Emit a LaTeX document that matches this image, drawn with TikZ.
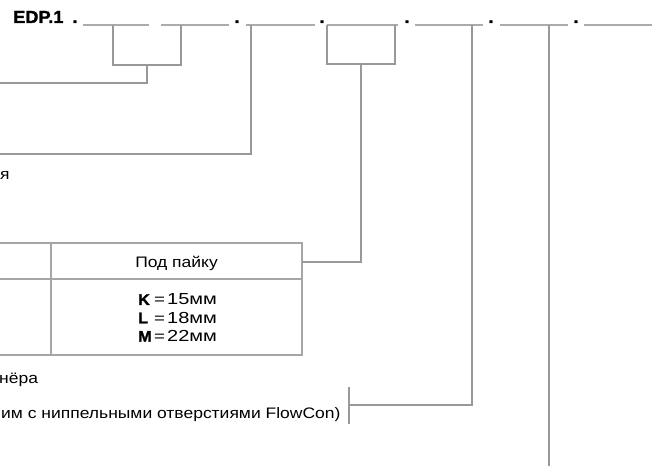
\documentclass[tikz,border=0pt]{standalone}
\usepackage{fontspec}
\setmainfont{Liberation Sans}
\newfontfamily\labelfont[FakeStretch=1.15]{Liberation Sans}
\newfontfamily\valfont[FakeStretch=1.25]{Liberation Sans}
\newfontfamily\codefamily[FakeStretch=1.04,FakeBold=1.5]{Liberation Sans Bold}
\begin{document}
\begin{tikzpicture}[
    x=1pt, y=-1pt,
    seg/.style={draw=black!33, line width=1.6pt},
    lead/.style={draw=black!40, line width=1.3pt},
    grid/.style={draw=black!35, line width=1.3pt},
    txt/.style={font=\labelfont\fontsize{15.2}{18}\selectfont, inner sep=0pt, anchor=base west},
    valtxt/.style={font=\valfont\fontsize{16}{18}\selectfont, inner sep=0pt, anchor=base west},
    lettertxt/.style={font=\codefamily\fontsize{15.5}{18}\selectfont, inner sep=0pt, anchor=base west},
    eqtxt/.style={font=\valfont\fontsize{15}{18}\selectfont, inner sep=0pt, anchor=base west},
    codefont/.style={font=\codefamily\fontsize{17.5}{20}\selectfont, inner sep=0pt, anchor=base},
]
\useasboundingbox (0,0) rectangle (662,470);
\clip (0,0) rectangle (662,470);

% Code line
\node[codefont, anchor=base west] (code) at (13,23) {EDP.1};
\node[codefont] (dot0) at (75,23) {.};
\foreach \n/\a/\b in {1/83/149, 2/161/229, 3/246/315, 4/327/398, 5/415/483, 6/500/568, 7/584/652}
  \draw[seg] (\a,25) coordinate (s\n w) -- (\b,25) coordinate (s\n e);
\foreach \n/\x in {1/237, 2/322, 3/407, 4/491, 5/576}
  \node[codefont] (dot\n) at (\x,23) {.};

% Taps on the segments
\coordinate (t1) at (113,25);
\coordinate (t2) at (181,25);
\coordinate (j12) at (147,65);
\coordinate (t3) at (251,25);
\coordinate (t4a) at (327,25);
\coordinate (t4b) at (395,25);
\coordinate (j4) at (361,64);
\coordinate (t5) at (472,25);
\coordinate (t6) at (549,25);

% Free ends to the left
\coordinate (e1) at (-5,83);
\coordinate (e2) at (-5,154);
\coordinate (e6) at (549,466);

% Labels
\node[txt] (lbl2) at (0,180) {я};
\node[txt] (lbl5) at (-1,384) {нёра};
\node[txt] (lbl6) at (1,419) {им с ниппельными отверстиями FlowCon)};
\coordinate (bar) at (349,405);

% Table
\draw[grid] (-10,243) rectangle (302,355);
\draw[grid] (-10,279) -- (302,279);
\draw[grid] (51,243) -- (51,355);
\node[txt, anchor=base] (hdr) at (176.5,268) {Под пайку};
\foreach \k/\v/\y in {K/15/305, L/18/323.3, M/22/341.7} {
  \node[lettertxt] (let\k) at (138,\y) {\k};
  \node[eqtxt] (eq\k) at (154,\y) {=};
  \node[valtxt] (val\k) at (167,\y) {\v мм};
}
\coordinate (tbl) at (302,262);

% Connectors
\draw[lead] (t1) |- (j12) -| (t2);
\draw[lead] (j12) |- (e1);
\draw[lead] (t3) |- (e2);
\draw[lead] (t4a) |- (j4) -| (t4b);
\draw[lead] (j4) |- (tbl);
\draw[lead] (t5) |- (bar);
\draw[lead] ([yshift=-19pt]bar) -- ([yshift=18pt]bar);
\draw[lead] (t6) -- (e6);

\end{tikzpicture}
\end{document}
